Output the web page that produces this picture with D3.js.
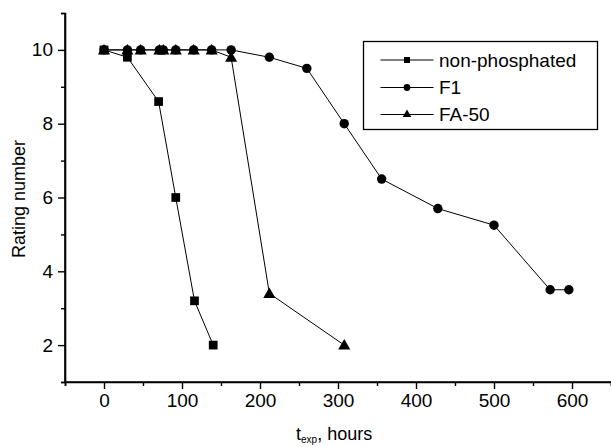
<!DOCTYPE html>
<html><head><meta charset="utf-8">
<script src="https://cdn.jsdelivr.net/npm/d3@7"></script>
<style>html,body{margin:0;padding:0;background:#fff;}svg{display:block;font-family:"Liberation Sans",Arial,sans-serif;}</style>
</head><body><svg id="c" width="611" height="447"></svg>
<script>
const seriesNames = ["non-phosphated", "F1", "FA-50"];
const nonPhosX = [0, 30, 70, 92, 116, 140];
const nonPhosY = [10, 9.8, 8.6, 6.0, 3.2, 2.0];
const f1X = [0, 30, 47, 71, 76, 92, 115, 138, 163, 212, 260, 308, 356, 428, 500, 572, 596];
const f1Y = [10, 10, 10, 10, 10, 10, 10, 10, 10, 9.8, 9.5, 8.0, 6.5, 5.7, 5.25, 3.5, 3.5];
const fa50X = [0, 30, 47, 71, 76, 92, 115, 138, 163, 212, 308];
const fa50Y = [10, 10, 10, 10, 10, 10, 10, 10, 9.8, 3.4, 2.0];
const xTicks = [0, 100, 200, 300, 400, 500, 600];
const xMinor = [-50, 50, 150, 250, 350, 450, 550, 650];
const yTicks = [2, 4, 6, 8, 10];
const yMinor = [1, 3, 5, 7, 9, 11];

const svg = d3.select("#c");
const x = d3.scaleLinear().domain([-50, 650]).range([65, 611]);
const y = d3.scaleLinear().domain([1, 11]).range([382, 13]);

const series = [
  {name: seriesNames[0], xs: nonPhosX, ys: nonPhosY, sym: d3.symbolSquare, size: 76, lsize: 36},
  {name: seriesNames[1], xs: f1X, ys: f1Y, sym: d3.symbolCircle, size: 70, lsize: 36},
  {name: seriesNames[2], xs: fa50X, ys: fa50Y, sym: d3.symbolTriangle, size: 64, lsize: 32}
];

const line = d3.line().x(d => x(d[0])).y(d => y(d[1]));
series.forEach(s => {
  const pts = s.xs.map((v, i) => [v, s.ys[i]]);
  svg.append("path").attr("d", line(pts)).attr("fill", "none").attr("stroke", "#000").attr("stroke-width", 1);
});
series.forEach(s => {
  const pts = s.xs.map((v, i) => [v, s.ys[i]]);
  svg.append("g").selectAll("path").data(pts).join("path")
    .attr("transform", d => `translate(${x(d[0])},${y(d[1]) + (s.sym === d3.symbolTriangle ? 1 : 0)})`)
    .attr("d", d3.symbol().type(s.sym).size(s.size)).attr("fill", "#000");
});

// axes
const xAxis = svg.append("g").attr("transform", "translate(0,382)")
  .call(d3.axisBottom(x).tickValues(xTicks).tickSize(7).tickPadding(5).tickFormat(d3.format("d")));
svg.append("g").attr("transform", "translate(0,382)")
  .call(d3.axisBottom(x).tickValues(xMinor).tickSize(4).tickFormat(""));
const yAxis = svg.append("g").attr("transform", "translate(65,0)")
  .call(d3.axisLeft(y).tickValues(yTicks).tickSize(7).tickPadding(5).tickFormat(d3.format("d")));
svg.append("g").attr("transform", "translate(65,0)")
  .call(d3.axisLeft(y).tickValues(yMinor).tickSize(4).tickFormat(""));
svg.selectAll(".domain").attr("stroke", "#000").attr("stroke-width", 1.6);
svg.selectAll(".tick line").attr("stroke", "#000").attr("stroke-width", 1.4);
svg.selectAll(".tick text").attr("font-size", 19).attr("font-family", "Liberation Sans, Arial, sans-serif").attr("fill", "#000");
xAxis.select(".domain").attr("d", `M${x(-50)},0H${x(650)}`);
yAxis.select(".domain").attr("d", `M0,${y(11)}V${y(1)}`);

// axis titles
svg.append("text").attr("transform", "translate(25,199) rotate(-90)").attr("text-anchor", "middle")
  .attr("font-size", 18).text("Rating number");
const xt = svg.append("text").attr("x", 296).attr("y", 440).attr("font-size", 18);
xt.append("tspan").text("t");
xt.append("tspan").attr("font-size", 10).attr("dy", 3).text("exp");
xt.append("tspan").attr("dy", -3).text(", hours");

// legend
const lg = svg.append("g");
lg.append("rect").attr("x", 363.5).attr("y", 41.5).attr("width", 234).attr("height", 88)
  .attr("fill", "#fff").attr("stroke", "#000").attr("stroke-width", 1.3);
const rowsY = [60, 87.5, 114.5];
series.forEach((s, i) => {
  const ry = rowsY[i];
  lg.append("line").attr("x1", 380.5).attr("x2", 433.5).attr("y1", ry).attr("y2", ry)
    .attr("stroke", "#000").attr("stroke-width", 1);
  lg.append("path").attr("transform", `translate(407,${ry})`)
    .attr("d", d3.symbol().type(s.sym).size(s.lsize)).attr("fill", "#000");
  lg.append("text").attr("x", 439).attr("y", ry + 6.5).attr("font-size", 19).text(s.name);
});
</script></body></html>
